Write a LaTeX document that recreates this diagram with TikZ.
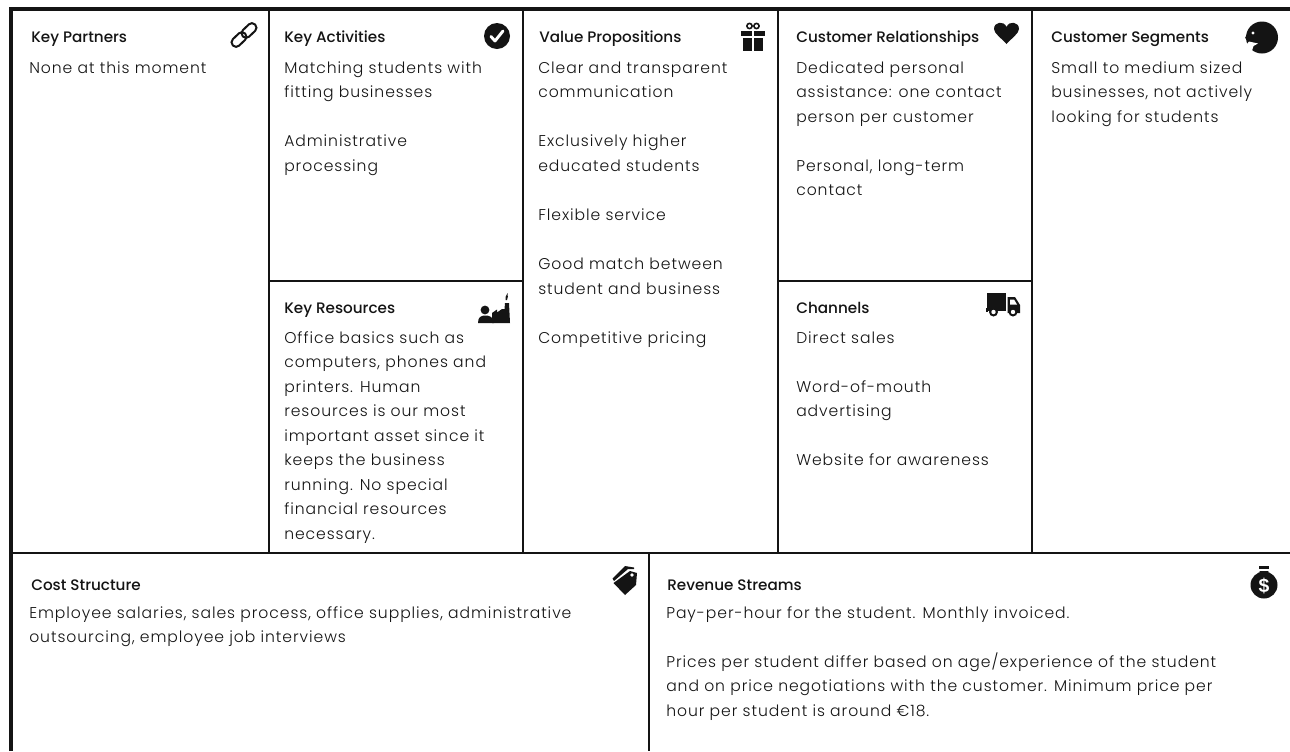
\documentclass[tikz,border=0pt]{standalone}
\usepackage{fontspec}
\newfontfamily\bodyf[LetterSpace=6]{Poppins Light}
\newfontfamily\titlef{Poppins Medium}
\newfontfamily\dollarf{Liberation Sans Bold}
\definecolor{ink}{HTML}{141414}
\tikzset{
  title/.style={anchor=base west,inner sep=0,text=ink,font=\titlef\fontsize{11.4}{14}\selectfont},
  body/.style={anchor=north west,inner sep=0,align=left,text=ink,font=\bodyf\fontsize{11.7}{18.4}\selectfont},
  grid/.style={draw=ink,line width=1.5pt},
  outer/.style={draw=ink,line width=3pt},
  icon/.style={fill=ink,draw=none},
  chainlink/.style={draw=ink,line width=1.5pt,rounded corners=3.2pt},
}
\begin{document}
\begin{tikzpicture}[x=0.75pt,y=-0.75pt]
\useasboundingbox (0,0) rectangle (1290,751);
\fill[white] (0,0) rectangle (1290,751);
% frame
\draw[outer] (10.5,751) -- (10.5,9) -- (1290,9);
\draw[grid] (11,553) -- (1290,553);
\draw[grid] (268.5,9) -- (268.5,553);
\draw[grid] (523,9) -- (523,553);
\draw[grid] (777.5,9) -- (777.5,553);
\draw[grid] (1032,9) -- (1032,553);
\draw[grid] (268.5,281) -- (523,281);
\draw[grid] (777.5,281) -- (1032,281);
\draw[grid] (648.5,553) -- (648.5,751);
% titles
\node[title] (tKP) at (31,42) {Key Partners};
\node[title] (tKA) at (284,42) {Key Activities};
\node[title] (tVP) at (539,42) {Value Propositions};
\node[title] (tCR) at (796,42) {Customer Relationships};
\node[title] (tCS) at (1051,42) {Customer Segments};
\node[title] (tKR) at (284,313) {Key Resources};
\node[title] (tCH) at (796,313) {Channels};
\node[title] (tCO) at (31,590) {Cost Structure};
\node[title] (tRS) at (667,590) {Revenue Streams};
% bodies
\node[body] (bKP) at (29,55.8) {\strut None at this moment};
\node[body] (bKA) at (284,55.8) {\strut Matching students with\\fitting businesses\\ \strut\\Administrative\\processing};
\node[body] (bVP) at (538,55.8) {\strut Clear and transparent\\communication\\ \strut\\Exclusively higher\\educated students\\ \strut\\Flexible service\\ \strut\\Good match between\\student and business\\ \strut\\Competitive pricing};
\node[body] (bCR) at (796,55.8) {\strut Dedicated personal\\assistance: one contact\\person per customer\\ \strut\\Personal, long-term\\contact};
\node[body] (bCS) at (1051,55.8) {\strut Small to medium sized\\businesses, not actively\\looking for students};
\node[body] (bKR) at (284,325.8) {\strut Office basics such as\\computers, phones and\\printers. Human\\resources is our most\\important asset since it\\keeps the business\\running. No special\\financial resources\\necessary.};
\node[body] (bCH) at (796,325.8) {\strut Direct sales\\ \strut\\Word-of-mouth\\advertising\\ \strut\\Website for awareness};
\node[body] (bCO) at (29,600.8) {\strut Employee salaries, sales process, office supplies, administrative\\outsourcing, employee job interviews};
\node[body] (bRS) at (666,600.8) {\strut Pay-per-hour for the student. Monthly invoiced.\\ \strut\\Prices per student differ based on age/experience of the student\\and on price negotiations with the customer. Minimum price per\\hour per student is around €18.};
% link icon
\draw[chainlink,rotate around={44:(249,30.5)}] (240.5,26) rectangle (257.5,35);
\draw[chainlink,rotate around={44:(239,39.5)}] (230.5,35) rectangle (247.5,44);
% check icon
\fill[ink] (497,36) circle (13);
\draw[white,line width=2.2pt,line cap=round,line join=round] (491,36.5) -- (495,41) -- (503,31);
% gift icon
\draw[ink,line width=1.2pt] (749.5,26) circle (2.6) (756.5,26) circle (2.6);
\fill[icon] (741,31) rectangle (765,36);
\fill[icon] (743,37.5) rectangle (763,51);
\fill[white] (752,31) rectangle (754,51);
% heart icon
\fill[icon] (1006.5,44) .. controls (1001,38) and (994,33) .. (994,29) .. controls (994,21.5) and (1004,20.5) .. (1006.5,27) .. controls (1009,20.5) and (1019,21.5) .. (1019,29) .. controls (1019,33) and (1012,38) .. (1006.5,44) -- cycle;
% face icon
\fill[icon] (1262,37.5) circle (16);
\fill[icon] (1250,28) -- (1245,38) -- (1250,41.5) -- cycle;
\fill[white] (1253,33) circle (1.6);
\fill[white] (1249,41.5) -- (1258,43.5) -- (1253.5,46) -- (1251,54) -- (1242,50) -- cycle;
% resources icon
\fill[icon] (485,310) circle (4.4);
\fill[icon] (478,323) .. controls (478,317) and (481,315.5) .. (485.5,315.5) .. controls (490,315.5) and (493,317) .. (494,323) -- cycle;
\fill[icon] (492,323) -- (492,313) -- (497,309.5) -- (497,312.5) -- (502,309) -- (504.5,309) -- (505,303) -- (509,303) -- (510,323) -- cycle;
\fill[icon] (505.5,300) .. controls (504.5,297) and (506.5,296) .. (507.5,293) .. controls (508.5,296) and (507.5,298) .. (507,300) -- cycle;
% truck icon
\fill[icon] (987,293) rectangle (1006,311);
\fill[icon] (986,308) rectangle (988,312);
\fill[icon] (1007.5,297) -- (1015,297) -- (1020,305) -- (1020,313) -- (1007.5,313) -- cycle;
\fill[white] (1010,299.5) -- (1014,299.5) -- (1017,304.5) -- (1010,304.5) -- cycle;
\fill[icon] (993.5,312) circle (4.5) (1013,312) circle (4.5);
\fill[white] (993.5,312) circle (2.2) (1013,312) circle (2.2);
% tag icon
\fill[icon] (630,571) -- (637,573) -- (636,585) -- (625,595) -- (613.5,583) -- cycle;
\fill[icon] (612.5,578.5) -- (625,566) -- (634,567.5) -- (634,569) -- (628,569) -- (614,581) -- cycle;
\fill[white] (632,575) circle (1.8);
% money bag icon
\fill[icon] (1259,566) rectangle (1269,569);
\fill[icon] (1259.5,571) -- (1268.5,571) -- (1268,574) -- (1260,574) -- cycle;
\fill[icon] (1264,585) circle (13.5);
\node[text=white,font=\dollarf\fontsize{14.5}{15}\selectfont,inner sep=0] (dollar) at (1264,586) {\$};
\end{tikzpicture}
\end{document}
